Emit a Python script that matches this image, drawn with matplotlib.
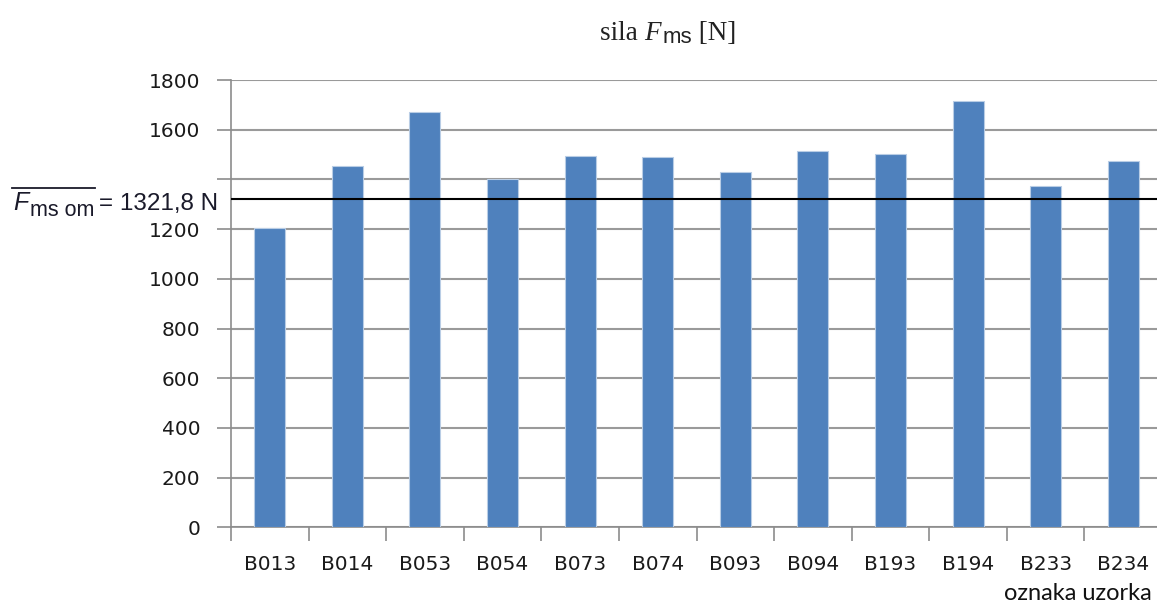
import matplotlib
matplotlib.use("Agg")
import matplotlib.pyplot as plt
from matplotlib.lines import Line2D
import numpy as np

categories = ["B013", "B014", "B053", "B054", "B073", "B074",
              "B093", "B094", "B193", "B194", "B233", "B234"]
values = [1203, 1455, 1672, 1401, 1495, 1489, 1431, 1513, 1503, 1714, 1375, 1473]
mean_value = 1321.8
mean_label = "= 1321,8 N"
y_ticks = [0, 200, 400, 600, 800, 1000, 1200, 1400, 1600, 1800]
y_tick_labels = ["0", "200", "400", "600", "800", "1000", "1200", "", "1600", "1800"]

W, H = 1157, 603
fig = plt.figure(figsize=(W / 100, H / 100), dpi=100)
left, right, top, bottom = 231 / W, 1162 / W, 80 / H, 527.3 / H
ax = fig.add_axes([left, 1 - bottom, right - left, bottom - top])

x = np.arange(len(categories))
ax.bar(x, values, width=0.4, color="#4F81BD", edgecolor="#B9CDE5", linewidth=0.8, zorder=3)
ax.axhline(mean_value, color="black", linewidth=1.5, zorder=4)

ax.set_xlim(-0.5, len(categories) - 0.5)
ax.set_ylim(0, 1800)
ax.set_yticks(y_ticks)
ax.set_yticklabels(y_tick_labels)
ax.yaxis.grid(True, color="#9A9A9A", linewidth=1.5, zorder=0)
ax.set_axisbelow(True)

ax.set_xticks(x)
ax.set_xticklabels(categories)
ax.set_xticks(np.arange(len(categories) + 1) - 0.5, minor=True)
ax.tick_params(axis="x", which="major", length=0, pad=20)
ax.tick_params(axis="x", which="minor", length=10, width=1.2, color="#8C8C8C", direction="out")
ax.tick_params(axis="y", length=10, width=1.2, color="#8C8C8C", direction="out", pad=12)
for lab in ax.get_xticklabels() + ax.get_yticklabels():
    lab.set_fontsize(14.5)
    lab.set_color("#1a1a1a")
    lab.set_family("DejaVu Sans")

for s in ["top", "right"]:
    ax.spines[s].set_visible(False)
for s in ["left", "bottom"]:
    ax.spines[s].set_color("#8C8C8C")
    ax.spines[s].set_linewidth(1.2)

renderer = fig.canvas.get_renderer()

def px(xp, yp):
    return xp / W, 1 - yp / H

def place(xr, yb, s, ha="right", **kw):
    t = fig.text(*px(xr, yb), s, ha=ha, va="baseline", **kw)
    bb = t.get_window_extent(renderer)
    return t, bb

# title built from pieces, left to right
xcur = 600
for s, kw, dy in [("sila ", dict(family="Liberation Serif", fontsize=19.5), 0),
                  ("F", dict(family="Liberation Serif", style="italic", fontsize=19.5), 0),
                  ("ms", dict(family="Liberation Sans", fontsize=16), 3),
                  (" [N]", dict(family="Liberation Serif", fontsize=19.5), 0)]:
    t, bb = place(xcur, 40 + dy, s, ha="left", color="#222222", **kw)
    xcur = bb.x1 + (1 if s == "F" else 0)

# mean annotation built from pieces, right to left
t, bb = place(218, 210, mean_label, family="Liberation Sans", fontsize=17.5, color="#1a1a2a")
t2, bb2 = place(bb.x0 - 5, 216, "ms om", family="Liberation Sans", fontsize=15.5, color="#1a1a2a")
t3, bb3 = place(bb2.x0 - 1, 210, "F", family="Liberation Sans", style="italic", fontsize=18, color="#1a1a2a")
fig.add_artist(Line2D([bb3.x0 / W - 1 / W, bb2.x1 / W + 1 / W], [1 - 187.7 / H] * 2,
                      color="#1a1a2a", linewidth=1.3, transform=fig.transFigure))

fig.text(1152 / W, 1 - 594 / H, "oznaka uzorka", ha="right", va="center",
         fontsize=17, family="Lato", color="#111111")

fig.savefig("out.png", dpi=100)
